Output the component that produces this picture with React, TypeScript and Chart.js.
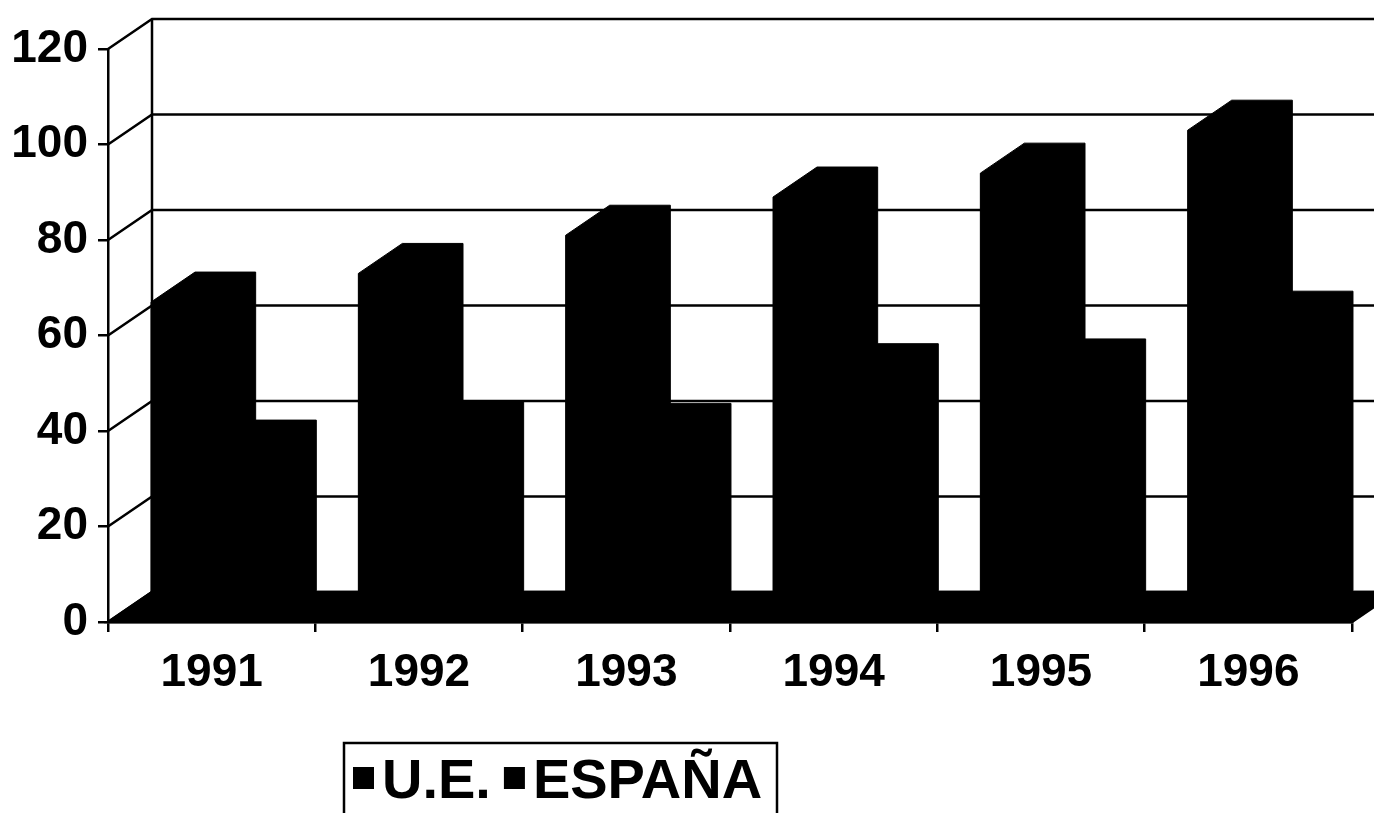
import React, { useEffect, useRef } from "react";
import { Chart, registerables } from "chart.js";

Chart.register(...registerables);

const years = ["1991", "1992", "1993", "1994", "1995", "1996"];
const ueValues = [67, 73, 81, 89, 94, 103];
const espanaValues = [36, 40, 39.5, 52, 53, 63];
const seriesLabels = ["U.E.", "ESPAÑA"];
const yMin = 0;
const yMax = 120;
const yStep = 20;

const DX = 44;
const DY = 30;
const LINE_W = 2.5;
const TICK_FONT = "'Liberation Sans', Arial, sans-serif";
const LEGEND_FONT = "'Liberation Sans', Arial, sans-serif";

const depthPlugin = {
  id: "depth3d",
  beforeDatasetsDraw(chart: any) {
    const { ctx, chartArea, scales } = chart;
    const { left, right, top, bottom } = chartArea;
    const y = scales.y;
    ctx.save();
    ctx.strokeStyle = "#000";
    ctx.fillStyle = "#000";
    ctx.lineWidth = LINE_W;
    // back wall left edge
    ctx.beginPath();
    ctx.moveTo(left + DX, top - DY);
    ctx.lineTo(left + DX, bottom - DY);
    ctx.stroke();
    // side wall diagonals + back wall gridlines
    y.ticks.forEach((t: any) => {
      const py = y.getPixelForValue(t.value);
      ctx.beginPath();
      ctx.moveTo(left, py);
      ctx.lineTo(left + DX, py - DY);
      ctx.lineTo(right + DX, py - DY);
      ctx.stroke();
    });
    // floor
    ctx.beginPath();
    ctx.moveTo(left, bottom);
    ctx.lineTo(right, bottom);
    ctx.lineTo(right + DX, bottom - DY);
    ctx.lineTo(left + DX, bottom - DY);
    ctx.closePath();
    ctx.fill();
    ctx.stroke();
    ctx.restore();
  },
  afterDatasetsDraw(chart: any) {
    const { ctx } = chart;
    ctx.save();
    ctx.fillStyle = "#000";
    ctx.strokeStyle = "#000";
    ctx.lineWidth = 1;
    // whole bar silhouette (front + top + side) as one shape, no seams
    chart.data.datasets.forEach((_ds: any, i: number) => {
      const meta = chart.getDatasetMeta(i);
      meta.data.forEach((bar: any) => {
        const p = bar.getProps(["x", "y", "base", "width"], true);
        const l = p.x - p.width / 2;
        const r = p.x + p.width / 2;
        ctx.beginPath();
        ctx.moveTo(l, p.base);
        ctx.lineTo(l, p.y);
        ctx.lineTo(l + DX, p.y - DY);
        ctx.lineTo(r + DX, p.y - DY);
        ctx.lineTo(r + DX, p.base - DY);
        ctx.lineTo(r, p.base);
        ctx.closePath();
        ctx.fill();
        ctx.stroke();
      });
    });
    ctx.restore();
  },
};

const legendPlugin = {
  id: "boxLegend",
  afterDraw(chart: any) {
    const { ctx } = chart;
    ctx.save();
    ctx.strokeStyle = "#000";
    ctx.lineWidth = LINE_W;
    ctx.strokeRect(344, 743, 433, 100);
    ctx.fillStyle = "#000";
    ctx.font = `bold 56px ${LEGEND_FONT}`;
    ctx.textBaseline = "alphabetic";
    ctx.textAlign = "left";
    const baseY = 798;
    let x = 353;
    chart.data.datasets.forEach((ds: any) => {
      ctx.fillRect(x, 767, 21, 22);
      x += 29;
      ctx.fillText(ds.label, x, baseY);
      x += ctx.measureText(ds.label).width + 13;
    });
    ctx.restore();
  },
};

export default function App() {
  const ref = useRef<HTMLCanvasElement | null>(null);
  useEffect(() => {
    document.body.style.margin = "0";
    const canvas = ref.current;
    if (!canvas) return;
    const tickFont = { family: TICK_FONT, size: 46, weight: "bold" as const, lineHeight: 1.2 };
    const chart = new Chart(canvas, {
      type: "bar",
      data: {
        labels: years,
        datasets: [
          { label: seriesLabels[0], data: ueValues, backgroundColor: "#000", borderWidth: 0 },
          { label: seriesLabels[1], data: espanaValues, backgroundColor: "#000", borderWidth: 0 },
        ],
      },
      options: {
        responsive: false,
        animation: false,
        devicePixelRatio: 1,
        layout: { padding: { top: 49, right: 22, bottom: 0, left: 0 } },
        datasets: { bar: { categoryPercentage: 0.585, barPercentage: 1.0 } },
        plugins: { legend: { display: false }, tooltip: { enabled: false } },
        scales: {
          x: {
            ticks: { font: tickFont, color: "#000", padding: 14, maxRotation: 0 },
            grid: { drawOnChartArea: false, drawTicks: true, tickLength: 10, color: "#000", lineWidth: LINE_W, offset: true },
            border: { display: true, color: "#000", width: LINE_W },
            afterFit: (s: any) => { s.height = 191; },
          },
          y: {
            min: yMin,
            max: yMax,
            ticks: { stepSize: yStep, font: tickFont, color: "#000", padding: 10 },
            grid: { drawOnChartArea: false, drawTicks: true, tickLength: 10, color: "#000", lineWidth: LINE_W },
            border: { display: true, color: "#000", width: LINE_W },
            afterFit: (s: any) => { s.width = 108; },
          },
        },
      },
      plugins: [depthPlugin, legendPlugin],
    });
    return () => chart.destroy();
  }, []);
  return (
    <div style={{ width: 1374, height: 813, position: "relative", background: "#fff" }}>
      <canvas ref={ref} width={1374} height={813} style={{ display: "block" }} />
    </div>
  );
}
